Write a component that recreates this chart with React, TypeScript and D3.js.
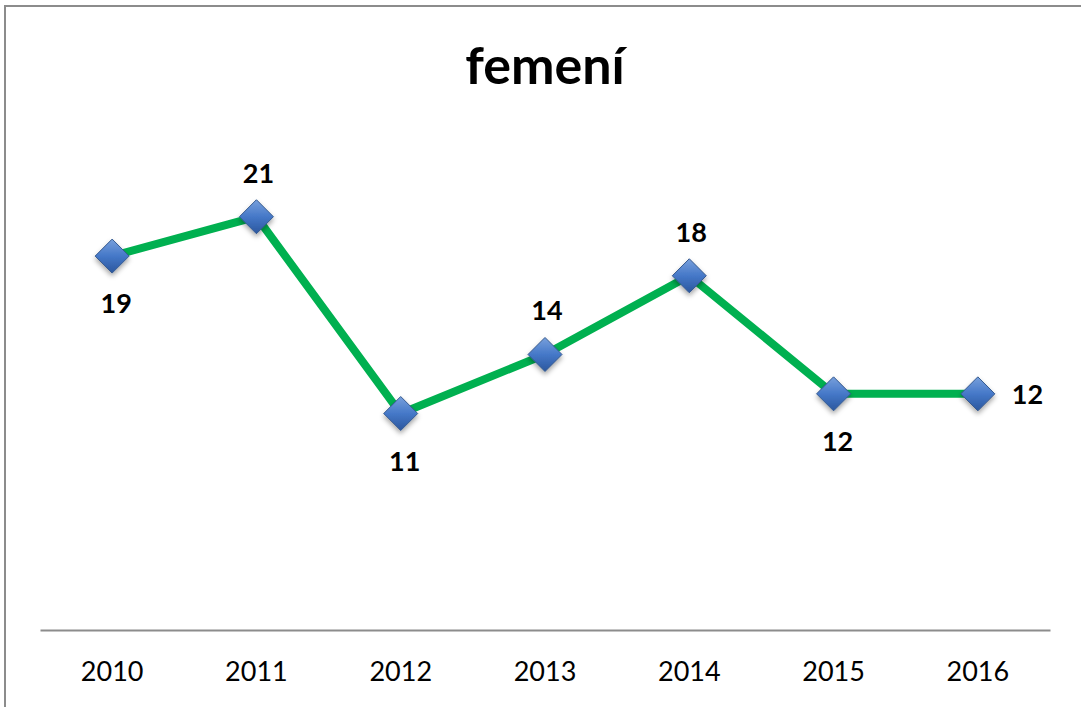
import React, { useEffect, useRef } from "react";
import * as d3 from "d3";

const years = ["2010", "2011", "2012", "2013", "2014", "2015", "2016"];
const values = [19, 21, 11, 14, 18, 12, 12];
// where each data label sits relative to its marker
const labelPos = ["below", "above", "below", "above", "above", "below", "right"];
const title = "femení";

const W = 1081;
const H = 707;

const App = () => {
  const svgRef = useRef<SVGSVGElement>(null);

  useEffect(() => {
    const svg = d3.select(svgRef.current);
    svg.selectAll("*").remove();

    const x = d3.scaleBand().domain(years).range([40, 1050]);
    const y = d3.scaleLinear().domain([0, 25]).range([630, 138]);
    const cx = (d: string) => (x(d) as number) + x.bandwidth() / 2;

    const defs = svg.append("defs");
    const grad = defs
      .append("linearGradient")
      .attr("id", "mk")
      .attr("x1", "0")
      .attr("y1", "0")
      .attr("x2", "0")
      .attr("y2", "1");
    grad.append("stop").attr("offset", "0%").attr("stop-color", "#78a0dc");
    grad.append("stop").attr("offset", "50%").attr("stop-color", "#4578c8");
    grad.append("stop").attr("offset", "100%").attr("stop-color", "#2b579e");
    const shadow = defs.append("filter").attr("id", "sh").attr("x", "-50%").attr("y", "-50%").attr("width", "200%").attr("height", "200%");
    shadow
      .append("feDropShadow")
      .attr("dx", 0)
      .attr("dy", 3)
      .attr("stdDeviation", 2.5)
      .attr("flood-color", "#000")
      .attr("flood-opacity", 0.35);

    // frame
    svg
      .append("rect")
      .attr("x", 5)
      .attr("y", 6)
      .attr("width", W + 20)
      .attr("height", H + 20)
      .attr("fill", "#fff")
      .attr("stroke", "#8c8c8c")
      .attr("stroke-width", 2);

    svg
      .append("text")
      .attr("x", 545)
      .attr("y", 84)
      .attr("text-anchor", "middle")
      .attr("font-family", "Lato, 'Open Sans', sans-serif")
      .attr("font-weight", "bold")
      .attr("font-size", 52)
      .text(title);

    const xAxis = svg
      .append("g")
      .attr("transform", `translate(0,${y(0)})`)
      .call(d3.axisBottom(x).tickSize(0).tickPadding(32));
    xAxis.select(".domain").attr("stroke", "#8c8c8c").attr("stroke-width", 2);
    xAxis
      .selectAll("text")
      .attr("font-family", "Lato, 'Open Sans', sans-serif")
      .attr("font-size", 27)
      .attr("fill", "#000");

    const data = years.map((yr, i) => ({ yr, v: values[i], pos: labelPos[i] }));

    svg
      .append("path")
      .datum(data)
      .attr("fill", "none")
      .attr("stroke", "#00b050")
      .attr("stroke-width", 8)
      .attr("stroke-linejoin", "round")
      .attr(
        "d",
        d3
          .line<{ yr: string; v: number }>()
          .x((d) => cx(d.yr))
          .y((d) => y(d.v))
      );

    const s = 17;
    svg
      .selectAll(".mk")
      .data(data)
      .enter()
      .append("path")
      .attr("class", "mk")
      .attr("d", `M0,${-s}L${s},0L0,${s}L${-s},0Z`)
      .attr("transform", (d) => `translate(${cx(d.yr)},${y(d.v)})`)
      .attr("fill", "url(#mk)")
      .attr("stroke", "#35598f")
      .attr("stroke-width", 1)
      .attr("filter", "url(#sh)");

    svg
      .selectAll(".lbl")
      .data(data)
      .enter()
      .append("text")
      .attr("class", "lbl")
      .attr("x", (d) => cx(d.yr) + (d.pos === "right" ? 34 : d.pos === "below" ? 4 : 2))
      .attr("y", (d) => y(d.v) + (d.pos === "above" ? -34 : d.pos === "below" ? 57 : 10))
      .attr("text-anchor", (d) => (d.pos === "right" ? "start" : "middle"))
      .attr("font-family", "Lato, 'Open Sans', sans-serif")
      .attr("font-weight", "bold")
      .attr("font-size", 27)
      .attr("fill", "#000")
      .text((d) => d.v);
  }, []);

  return (
    <div style={{ position: "absolute", left: 0, top: 0 }}>
      <svg ref={svgRef} width={W} height={H} style={{ display: "block" }}></svg>
    </div>
  );
};

export default App;
